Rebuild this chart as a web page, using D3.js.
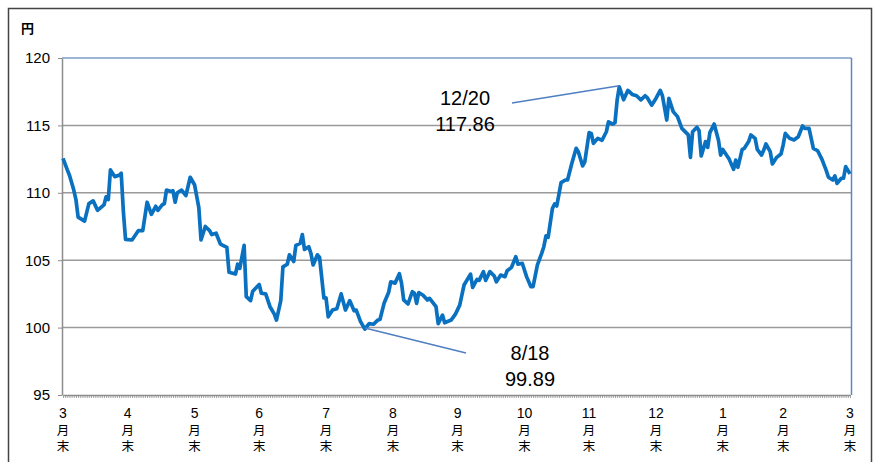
<!DOCTYPE html>
<html>
<head>
<meta charset="utf-8">
<script src="https://cdn.jsdelivr.net/npm/d3@7"></script>
<style>
  body { margin: 0; background: #fff; }
  svg text { font-family: "Liberation Sans", "Noto Sans CJK JP", sans-serif; fill: #000; }
  .cjk { font-family: "Noto Sans CJK JP", sans-serif; }
</style>
</head>
<body>
<div id="chart"></div>
<script>
// daily close (yen per dollar)
const dates = [
  '2016-03-31', '2016-04-02', '2016-04-03', '2016-04-05', '2016-04-06', '2016-04-07', '2016-04-10', '2016-04-12',
  '2016-04-14', '2016-04-16', '2016-04-19', '2016-04-20', '2016-04-21', '2016-04-22', '2016-04-24', '2016-04-26',
  '2016-04-27', '2016-04-28', '2016-04-29', '2016-05-02', '2016-05-05', '2016-05-07', '2016-05-09', '2016-05-11',
  '2016-05-13', '2016-05-14', '2016-05-16', '2016-05-17', '2016-05-18', '2016-05-20', '2016-05-21', '2016-05-22',
  '2016-05-23', '2016-05-25', '2016-05-27', '2016-05-29', '2016-05-31', '2016-06-02', '2016-06-03', '2016-06-05',
  '2016-06-07', '2016-06-08', '2016-06-10', '2016-06-12', '2016-06-15', '2016-06-16', '2016-06-19', '2016-06-20',
  '2016-06-21', '2016-06-23', '2016-06-24', '2016-06-26', '2016-06-27', '2016-06-30', '2016-07-01', '2016-07-03',
  '2016-07-05', '2016-07-07', '2016-07-08', '2016-07-10', '2016-07-11', '2016-07-13', '2016-07-14', '2016-07-16',
  '2016-07-17', '2016-07-19', '2016-07-20', '2016-07-21', '2016-07-23', '2016-07-24', '2016-07-25', '2016-07-27',
  '2016-07-28', '2016-07-30', '2016-07-31', '2016-08-01', '2016-08-03', '2016-08-05', '2016-08-07', '2016-08-09',
  '2016-08-11', '2016-08-13', '2016-08-14', '2016-08-16', '2016-08-18', '2016-08-19', '2016-08-20', '2016-08-22',
  '2016-08-24', '2016-08-25', '2016-08-27', '2016-08-29', '2016-08-30', '2016-09-01', '2016-09-03', '2016-09-04',
  '2016-09-05', '2016-09-07', '2016-09-09', '2016-09-10', '2016-09-11', '2016-09-12', '2016-09-14', '2016-09-16',
  '2016-09-17', '2016-09-20', '2016-09-21', '2016-09-23', '2016-09-24', '2016-09-27', '2016-09-29', '2016-10-01',
  '2016-10-03', '2016-10-06', '2016-10-07', '2016-10-09', '2016-10-10', '2016-10-12', '2016-10-13', '2016-10-15',
  '2016-10-17', '2016-10-18', '2016-10-20', '2016-10-22', '2016-10-23', '2016-10-25', '2016-10-27', '2016-10-28',
  '2016-10-30', '2016-11-01', '2016-11-03', '2016-11-04', '2016-11-06', '2016-11-08', '2016-11-09', '2016-11-10',
  '2016-11-11', '2016-11-13', '2016-11-14', '2016-11-15', '2016-11-17', '2016-11-19', '2016-11-20', '2016-11-22',
  '2016-11-24', '2016-11-25', '2016-11-27', '2016-11-28', '2016-11-30', '2016-12-01', '2016-12-02', '2016-12-04',
  '2016-12-06', '2016-12-08', '2016-12-09', '2016-12-11', '2016-12-12', '2016-12-13', '2016-12-14', '2016-12-16',
  '2016-12-18', '2016-12-20', '2016-12-22', '2016-12-24', '2016-12-26', '2016-12-27', '2016-12-29', '2016-12-31',
  '2017-01-02', '2017-01-03', '2017-01-05', '2017-01-06', '2017-01-08', '2017-01-10', '2017-01-12', '2017-01-15',
  '2017-01-16', '2017-01-17', '2017-01-19', '2017-01-20', '2017-01-21', '2017-01-23', '2017-01-24', '2017-01-25',
  '2017-01-27', '2017-01-29', '2017-01-30', '2017-01-31', '2017-02-02', '2017-02-03', '2017-02-05', '2017-02-06',
  '2017-02-07', '2017-02-09', '2017-02-10', '2017-02-12', '2017-02-13', '2017-02-15', '2017-02-16', '2017-02-18',
  '2017-02-19', '2017-02-20', '2017-02-22', '2017-02-23', '2017-02-25', '2017-02-27', '2017-02-28', '2017-03-01',
  '2017-03-03', '2017-03-05', '2017-03-07', '2017-03-09', '2017-03-10', '2017-03-12', '2017-03-14', '2017-03-16',
  '2017-03-18', '2017-03-20', '2017-03-21', '2017-03-23', '2017-03-24', '2017-03-25', '2017-03-27', '2017-03-28',
  '2017-03-29', '2017-03-31'
];
const values = [
  112.56, 111.7, 111.3, 110.2, 109.5, 108.2, 107.9, 109.2,
  109.4, 108.7, 109.1, 109.7, 109.5, 111.7, 111.2, 111.3,
  111.45, 108.6, 106.55, 106.5, 107.2, 107.2, 109.3, 108.4,
  109.0, 108.7, 109.1, 109.2, 110.2, 110.1, 110.15, 109.3,
  110.0, 110.2, 109.8, 111.15, 110.6, 108.9, 106.5, 107.5,
  107.2, 106.9, 107.0, 106.2, 105.95, 104.1, 103.97, 104.7,
  104.4, 106.1, 102.3, 102.0, 102.7, 103.2, 102.55, 102.5,
  101.55, 101.0, 100.56, 102.0, 104.5, 104.7, 105.4, 104.9,
  106.1, 106.25, 106.9, 105.8, 106.0, 105.5, 104.65, 105.4,
  105.2, 102.2, 102.2, 100.8, 101.3, 101.4, 102.5, 101.3,
  102.0, 101.25, 101.3, 100.44, 99.89, 100.1, 100.3, 100.25,
  100.56, 100.6, 101.85, 102.6, 103.4, 103.3, 104.0, 103.3,
  102.05, 101.75, 102.66, 102.55, 101.8, 102.6, 102.4, 102.05,
  102.17, 101.55, 100.3, 100.93, 100.36, 100.56, 101.0, 101.67,
  103.16, 103.97, 102.98, 103.57, 103.5, 104.15, 103.5, 104.15,
  103.83, 103.4, 103.9, 103.78, 104.22, 104.47, 105.26, 104.7,
  104.77, 103.78, 103.03, 103.03, 104.64, 105.51, 106.0, 106.8,
  106.7, 108.85, 109.17, 109.02, 110.75, 110.95, 110.95, 112.19,
  113.3, 113.05, 111.99, 112.3, 114.46, 114.4, 113.67, 114.04,
  113.9, 114.53, 115.27, 115.1, 115.2, 116.88, 117.86, 116.9,
  117.6, 117.3, 117.2, 116.9, 117.2, 117.05, 116.5, 117.0,
  117.6, 117.2, 115.4, 117.0, 116.02, 115.65, 114.78, 114.3,
  112.63, 114.53, 114.86, 114.6, 112.73, 113.8, 113.37, 114.46,
  115.1, 113.9, 112.8, 113.22, 112.73, 112.48, 111.74, 112.43,
  111.89, 113.22, 113.3, 113.8, 114.29, 114.04, 113.22, 112.8,
  113.17, 113.62, 113.05, 112.14, 112.63, 112.88, 113.55, 114.41,
  114.04, 113.92, 114.16, 114.96, 114.78, 114.78, 113.3, 113.12,
  112.48, 111.64, 111.15, 110.95, 111.25, 110.7, 111.08, 111.08,
  111.94, 111.4
];

// x axis: month-end labels
const monthEnds = [
  '2016-03-31', '2016-04-30', '2016-05-31', '2016-06-30', '2016-07-31', '2016-08-31', '2016-09-30',
  '2016-10-31', '2016-11-30', '2016-12-31', '2017-01-31', '2017-02-28', '2017-03-31'
];
const yTicks = [95, 100, 105, 110, 115, 120];

// annotations: label lines
const highLabel = ['12/20', '117.86'];
const lowLabel = ['8/18', '99.89'];

const W = 881, H = 462;
const parse = d3.timeParse('%Y-%m-%d');
const data = dates.map((d, i) => ({ date: parse(d), value: values[i] }));
const ends = monthEnds.map(parse);

const svg = d3.select('#chart')
  .append('svg')
  .attr('width', W)
  .attr('height', H);

// outer frame
svg.append('rect')
  .attr('x', 8.5).attr('y', 8.5)
  .attr('width', 863).attr('height', 470)
  .attr('fill', 'none')
  .attr('stroke', '#444')
  .attr('stroke-width', 1.5);

const x = d3.scaleTime()
  .domain([ends[0], ends[ends.length - 1]])
  .range([63, 850]);

const y = d3.scaleLinear()
  .domain([95, 120])
  .range([395, 58]);

// unit
svg.append('text')
  .attr('class', 'cjk')
  .attr('x', 21).attr('y', 33)
  .style('font-size', '13px')
  .style('font-weight', 'bold')
  .text('円');

// gridlines
svg.append('g')
  .selectAll('line')
  .data(yTicks.filter(v => v > 95 && v < 120))
  .join('line')
  .attr('x1', 62).attr('x2', 851)
  .attr('y1', d => y(d)).attr('y2', d => y(d))
  .attr('stroke', '#9a9a9a')
  .attr('stroke-width', 1.5);

// plot border top / right
svg.append('line')
  .attr('x1', 62).attr('x2', 851.5).attr('y1', y(120)).attr('y2', y(120))
  .attr('stroke', '#7f9dc6').attr('stroke-width', 1.5);
svg.append('line')
  .attr('x1', 851.5).attr('x2', 851.5).attr('y1', y(120)).attr('y2', y(95))
  .attr('stroke', '#5b87c5').attr('stroke-width', 1.5);

// y axis
const yAxis = svg.append('g')
  .attr('transform', 'translate(62,0)')
  .call(d3.axisLeft(y).tickValues(yTicks).tickSize(4).tickPadding(8).tickSizeOuter(0));
yAxis.select('.domain').attr('stroke', '#8c8c8c').attr('stroke-width', 1.5);
yAxis.selectAll('.tick line').attr('stroke', '#8c8c8c');
yAxis.selectAll('text').style('font-size', '15px').style('font-family', '"Liberation Sans", sans-serif');

// x axis with daily minor ticks
const xAxis = svg.append('g')
  .attr('transform', 'translate(0,' + y(95) + ')')
  .call(d3.axisBottom(x).ticks(d3.timeDay.every(1)).tickSize(3).tickFormat('').tickSizeOuter(0));
xAxis.select('.domain').attr('stroke', '#8c8c8c').attr('stroke-width', 1.5);
xAxis.selectAll('.tick line').attr('stroke', '#8c8c8c').attr('stroke-width', 0.8);

// month-end labels: number, then 月末 set vertically
const fmtMonth = d3.timeFormat('%-m');
const lbl = svg.append('g')
  .selectAll('g')
  .data(ends)
  .join('g');
lbl.append('text')
  .attr('x', d => x(d)).attr('y', 418)
  .attr('text-anchor', 'middle')
  .style('font-size', '14px')
  .text(d => fmtMonth(d));
lbl.append('text')
  .attr('class', 'cjk')
  .attr('x', d => x(d)).attr('y', 424)
  .style('writing-mode', 'vertical-rl')
  .style('letter-spacing', '3px')
  .style('font-size', '12.5px')
  .text('月末');

// series
const line = d3.line()
  .x(d => x(d.date))
  .y(d => y(d.value));
svg.append('path')
  .datum(data)
  .attr('d', line)
  .attr('fill', 'none')
  .attr('stroke', '#0a70c0')
  .attr('stroke-width', 3.7)
  .attr('stroke-linejoin', 'round');

// high / low callouts
const hi = data.reduce((a, b) => (b.value > a.value ? b : a));
const lo = data.reduce((a, b) => (b.value < a.value ? b : a));

function callout(pt, from, labels, tx, ty) {
  svg.append('line')
    .attr('x1', from[0]).attr('y1', from[1])
    .attr('x2', x(pt.date)).attr('y2', y(pt.value) - 1)
    .attr('stroke', '#4f7fc0').attr('stroke-width', 1.5);
  const t = svg.append('text')
    .attr('y', ty).attr('text-anchor', 'middle')
    .style('font-size', '20px');
  t.append('tspan').attr('x', tx).text(labels[0]);
  t.append('tspan').attr('x', tx).attr('dy', 26).text(labels[1]);
}
callout(hi, [512, 103], highLabel, 465, 105);
callout(lo, [466, 353], lowLabel, 530, 360);
</script>
</body>
</html>
